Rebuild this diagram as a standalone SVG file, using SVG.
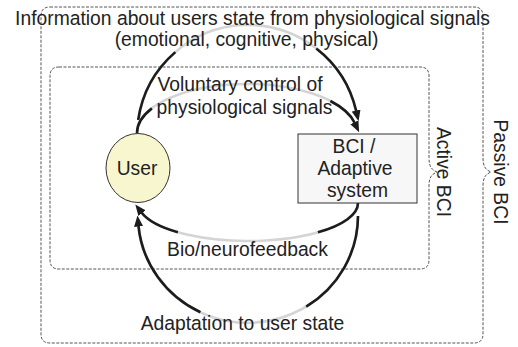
<svg xmlns="http://www.w3.org/2000/svg" width="518" height="347" viewBox="0 0 518 347">
  <style>
    .frame { fill: none; stroke: #555; stroke-width: 1; stroke-dasharray: 3 1.5; }
    .t { font-family: "Liberation Sans", Arial, sans-serif; font-size: 19.3px; fill: #222; text-anchor: middle; }
    .under { fill: none; stroke: #d4d4d4; stroke-width: 2.6; }
    .over { fill: none; stroke: #1c1c1c; stroke-width: 2.6; marker-end: url(#ah); }
  </style>
  <defs>
    <marker id="ah" markerUnits="userSpaceOnUse" viewBox="0 0 11 9" markerWidth="11" markerHeight="9" refX="0.5" refY="4.5" orient="auto">
      <path d="M0,0 L11,4.5 L0,9 z" fill="#1c1c1c"/>
    </marker>
  </defs>
  <rect width="518" height="347" fill="#ffffff"/>

  <g id="passive-bci">
    <path class="frame" d="M50,7 H474 Q483,7 483,16 V158 C483,167 486,170 491,172 C486,174 483,177 483,186 V334 Q483,343 474,343 H50 Q41,343 41,334 V16 Q41,7 50,7 Z"/>
    <text class="t" transform="translate(494,172) rotate(90)">Passive BCI</text>
  </g>

  <g id="active-bci">
    <path class="frame" d="M59,67 H420 Q429,67 429,76 V158 C429,167 432,170 437,172 C432,174 429,177 429,186 V260 Q429,269 420,269 H59 Q50,269 50,260 V76 Q50,67 59,67 Z"/>
    <text class="t" transform="translate(437,172) rotate(90)">Active BCI</text>
  </g>

  <g id="connectors">
    <!-- information about user state (passive) -->
    <path class="under" d="M138.2,120 A111,111 0 0 1 356.2,111"/>
    <path class="over" pathLength="100" stroke-dasharray="25.7 49.7 30" d="M138.2,120 A111,111 0 0 1 356.2,111"/>
    <!-- voluntary control -->
    <path class="under" d="M137,133 A110,49 0 0 1 354.6,122.8"/>
    <path class="over" pathLength="100" stroke-dasharray="12 74.6 20" d="M137,133 A110,49 0 0 1 354.6,122.8"/>
    <!-- bio/neurofeedback -->
    <path class="under" d="M358,203 A110,38 0 0 1 141.7,212.8"/>
    <path class="over" pathLength="100" stroke-dasharray="22.3 59.9 20" d="M358,203 A110,38 0 0 1 141.7,212.8"/>
    <!-- adaptation to user state -->
    <path class="under" d="M358,216 A110,107 0 0 1 138.5,226"/>
    <path class="over" pathLength="100" stroke-dasharray="33 33.4 40" d="M358,216 A110,107 0 0 1 138.5,226"/>
  </g>

  <g id="edge-labels">
    <text class="t" x="252.5" y="25">Information about users state from physiological signals</text>
    <text class="t" x="246.5" y="46">(emotional, cognitive, physical)</text>
    <text class="t" x="240" y="91">Voluntary control of</text>
    <text class="t" x="244.5" y="114">physiological signals</text>
    <text class="t" x="247.5" y="256">Bio/neurofeedback</text>
    <text class="t" x="242.5" y="330">Adaptation to user state</text>
  </g>

  <g id="user">
    <ellipse cx="138" cy="168" rx="32" ry="34.5" fill="#f8f6cf" stroke="#333" stroke-width="1"/>
    <text class="t" x="137" y="175">User</text>
  </g>

  <g id="bci">
    <rect x="298" y="134" width="119" height="69" fill="#f7f7f7" stroke="#333" stroke-width="1"/>
    <text class="t" x="354" y="152.5">BCI /</text>
    <text class="t" x="355" y="174.5">Adaptive</text>
    <text class="t" x="357.5" y="196.5">system</text>
  </g>
</svg>
